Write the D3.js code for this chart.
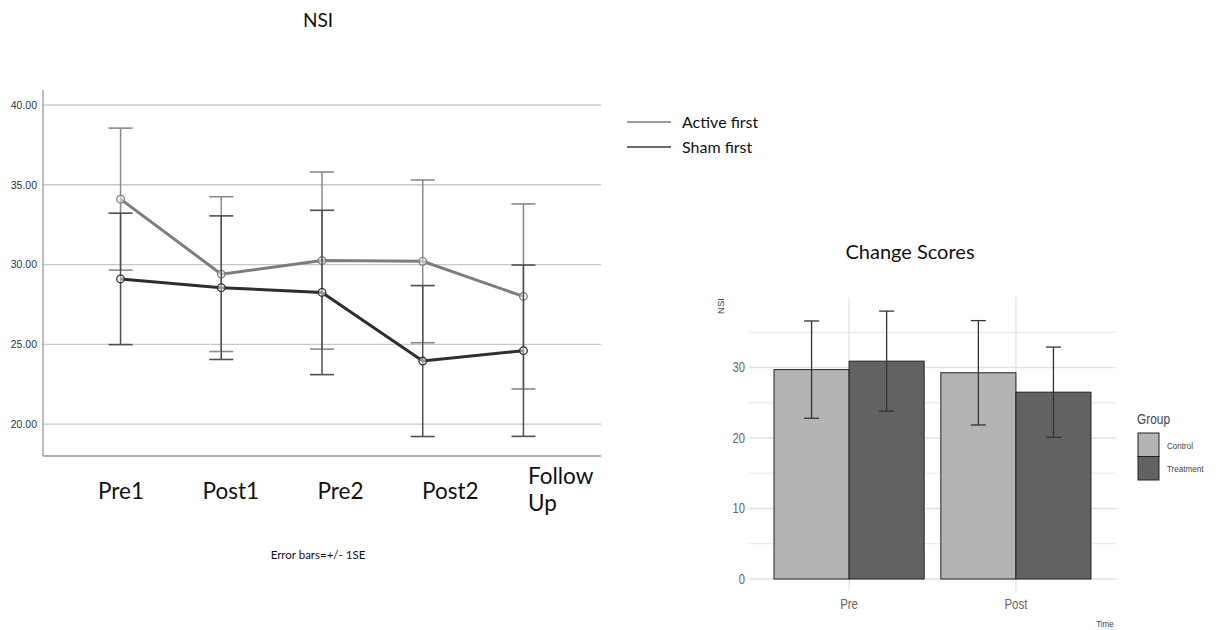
<!DOCTYPE html>
<html lang="en">
<head>
<meta charset="UTF-8">
<title>NSI and Change Scores</title>
<script src="https://cdn.jsdelivr.net/npm/d3@7/dist/d3.min.js"></script>
<style>
    body { margin: 0; background: #fff; }
    svg { display: block; }
    .calib { font-family: Lato, "Open Sans", sans-serif; fill: #111; }
    .narrow { font-family: "Liberation Sans Narrow", "Liberation Sans", Arial, sans-serif; }
</style>
</head>
<body>
<svg id="chart" width="1222" height="630"></svg>
<script>
// ---- left panel data (NSI over time) ----
var timePoints = ['Pre1', 'Post1', 'Pre2', 'Post2', 'Follow Up'];
var activeMean = [34.1, 29.4, 30.25, 30.2, 28.0];
var activeSE   = [4.45, 4.85, 5.55, 5.1, 5.8];
var shamMean   = [29.1, 28.55, 28.25, 23.95, 24.6];
var shamSE     = [4.12, 4.5, 5.15, 4.73, 5.37];
var nsiTicks   = [20, 25, 30, 35, 40];

// ---- right panel data (change scores) ----
var phases     = ['Pre', 'Post'];
var groups     = ['Control', 'Treatment'];
var controlMean = [29.7, 29.25];
var controlSE   = [6.9, 7.4];
var treatMean   = [30.9, 26.5];
var treatSE     = [7.1, 6.4];
var changeTicks = [0, 10, 20, 30];

var svg = d3.select('#chart');

// squeeze text horizontally to mimic a condensed face
function condense(sel, k) {
    sel.each(function () {
        var t = d3.select(this);
        var x = +t.attr('x');
        t.attr('transform', 'translate(' + x + ',0) scale(' + k + ',1) translate(' + (-x) + ',0)');
    });
}

// =================== LEFT: NSI line chart ===================
var L = {left: 43, right: 601, top: 90, bottom: 456};
var xL = d3.scalePoint().domain(timePoints).range([L.left, L.right]).padding(0.77);
var xLabel = d3.scalePoint().domain(timePoints).range([121, 560]);
var yL = d3.scaleLinear().domain([18, 40]).range([L.bottom, 105]);

svg.append('text').attr('class', 'calib')
   .attr('x', 318).attr('y', 27).attr('text-anchor', 'middle')
   .attr('font-size', 19).text('NSI');

// gridlines
svg.append('g').selectAll('line').data(nsiTicks).enter().append('line')
   .attr('x1', L.left).attr('x2', L.right)
   .attr('y1', d => yL(d)).attr('y2', d => yL(d))
   .attr('stroke', '#c8c8c8').attr('stroke-width', 1.3);

// axes
var yAxisL = svg.append('g').attr('transform', 'translate(' + L.left + ',0)')
   .call(d3.axisLeft(yL).tickValues(nsiTicks).tickFormat(d3.format('.2f')).tickSize(0).tickPadding(6));
yAxisL.select('.domain').remove();
yAxisL.selectAll('text').attr('font-family', '"Liberation Sans", Arial, sans-serif')
   .attr('font-size', 10.5).attr('fill', '#333');
svg.append('line').attr('x1', L.left).attr('x2', L.left).attr('y1', L.top).attr('y2', L.bottom)
   .attr('stroke', '#999').attr('stroke-width', 1.3);
svg.append('line').attr('x1', L.left).attr('x2', L.right).attr('y1', L.bottom).attr('y2', L.bottom)
   .attr('stroke', '#999').attr('stroke-width', 1.3);

// category labels
var catLabels = svg.append('g');
timePoints.forEach(function (t) {
    var parts = t.split(' ');
    var tx = catLabels.append('text').attr('class', 'calib').attr('font-size', 22.5);
    if (parts.length === 1) {
        tx.attr('x', xLabel(t)).attr('y', 499).attr('text-anchor', 'middle').text(t);
    } else {
        parts.forEach(function (p, i) {
            tx.append('tspan').attr('x', xLabel(t) - 32).attr('y', 484 + i * 27).text(p);
        });
    }
});

svg.append('text').attr('class', 'calib')
   .attr('x', 318).attr('y', 559).attr('text-anchor', 'middle')
   .attr('font-size', 11.5).text('Error bars=+/- 1SE');

function drawSeries(means, ses, lineColor, barColor) {
    var g = svg.append('g');
    var pts = timePoints.map((t, i) => ({t: t, m: means[i], se: ses[i]}));
    var eb = g.selectAll('.eb').data(pts).enter().append('g');
    eb.append('line')
      .attr('x1', d => xL(d.t)).attr('x2', d => xL(d.t))
      .attr('y1', d => yL(d.m - d.se)).attr('y2', d => yL(d.m + d.se))
      .attr('stroke', barColor).attr('stroke-width', 1.5);
    [-1, 1].forEach(function (s) {
        eb.append('line')
          .attr('x1', d => xL(d.t) - 12).attr('x2', d => xL(d.t) + 12)
          .attr('y1', d => yL(d.m + s * d.se)).attr('y2', d => yL(d.m + s * d.se))
          .attr('stroke', barColor).attr('stroke-width', 1.6);
    });
    g.append('path').datum(pts)
     .attr('fill', 'none').attr('stroke', lineColor).attr('stroke-width', 3)
     .attr('d', d3.line().x(d => xL(d.t)).y(d => yL(d.m)));
    g.selectAll('circle').data(pts).enter().append('circle')
     .attr('cx', d => xL(d.t)).attr('cy', d => yL(d.m)).attr('r', 3.8)
     .attr('fill', '#fff').attr('fill-opacity', 0.5)
     .attr('stroke', lineColor).attr('stroke-width', 1.3);
}
drawSeries(activeMean, activeSE, '#7d7d7d', '#8a8a8a');
drawSeries(shamMean, shamSE, '#2e2e2e', '#505050');

// legend
var legL = svg.append('g');
[['Active first', '#9a9a9a', 122], ['Sham first', '#6a6a6a', 147]].forEach(function (d) {
    legL.append('line').attr('x1', 627).attr('x2', 671).attr('y1', d[2]).attr('y2', d[2])
        .attr('stroke', d[1]).attr('stroke-width', 2.2);
    legL.append('text').attr('class', 'calib').attr('x', 682).attr('y', d[2] + 6)
        .attr('font-size', 16).text(d[0]);
});

// =================== RIGHT: Change Scores bar chart ===================
var R = {left: 749, right: 1116, top: 297, bottom: 579};
// band centres with ggplot-like expansion (0.6 units each side)
var xC = d3.scalePoint().domain(phases).range([R.left, R.right]).padding(0.6);
var step = xC.step();
var xG = d3.scaleBand().domain(groups).range([-0.45 * step, 0.45 * step]);
var yR = d3.scaleLinear().domain([0, 40]).range([R.bottom, R.top]);

svg.append('text').attr('class', 'calib')
   .attr('x', 910).attr('y', 259).attr('text-anchor', 'middle')
   .attr('font-size', 20).text('Change Scores');

// grid
var minor = [5, 15, 25, 35];
svg.append('g').selectAll('line').data(changeTicks.concat(minor)).enter().append('line')
   .attr('x1', R.left).attr('x2', R.right)
   .attr('y1', d => yR(d)).attr('y2', d => yR(d))
   .attr('stroke', '#e2e2e2').attr('stroke-width', d => minor.indexOf(d) >= 0 ? 0.9 : 1.3);
svg.append('g').selectAll('line').data(phases).enter().append('line')
   .attr('x1', d => xC(d)).attr('x2', d => xC(d))
   .attr('y1', R.top).attr('y2', R.bottom + 12)
   .attr('stroke', '#e2e2e2').attr('stroke-width', 1.3);

// y tick labels
svg.append('g').selectAll('text').data(changeTicks).enter().append('text')
   .attr('class', 'narrow').attr('x', 745).attr('y', d => yR(d) + 5)
   .attr('text-anchor', 'end').attr('font-size', 14).attr('fill', '#666')
   .text(d => d).call(condense, 0.8);
// x tick labels
svg.append('g').selectAll('text').data(phases).enter().append('text')
   .attr('class', 'narrow').attr('x', d => xC(d)).attr('y', 609)
   .attr('text-anchor', 'middle').attr('font-size', 14).attr('fill', '#666')
   .text(d => d).call(condense, 0.82);

svg.append('text').attr('class', 'narrow')
   .attr('transform', 'translate(724,306) rotate(-90)')
   .attr('text-anchor', 'middle').attr('font-size', 9.5).attr('fill', '#444').text('NSI');
svg.append('text').attr('class', 'narrow')
   .attr('x', 1105).attr('y', 627).attr('text-anchor', 'middle')
   .attr('font-size', 9.5).attr('fill', '#444').text('Time').call(condense, 0.85);

var fills = {Control: '#b4b4b4', Treatment: '#626262'};
var barData = [];
phases.forEach(function (p, i) {
    barData.push({p: p, g: 'Control', m: controlMean[i], se: controlSE[i]});
    barData.push({p: p, g: 'Treatment', m: treatMean[i], se: treatSE[i]});
});
var bars = svg.append('g');
bars.selectAll('rect').data(barData).enter().append('rect')
    .attr('x', d => xC(d.p) + xG(d.g)).attr('width', xG.bandwidth())
    .attr('y', d => yR(d.m)).attr('height', d => yR(0) - yR(d.m))
    .attr('fill', d => fills[d.g]).attr('stroke', '#222').attr('stroke-width', 1);
var ebR = bars.selectAll('.ebr').data(barData).enter().append('g').attr('stroke', '#333').attr('stroke-width', 1.3);
var cx = d => xC(d.p) + xG(d.g) + xG.bandwidth() / 2;
ebR.append('line').attr('x1', cx).attr('x2', cx)
   .attr('y1', d => yR(d.m - d.se)).attr('y2', d => yR(d.m + d.se));
[-1, 1].forEach(function (s) {
    ebR.append('line').attr('x1', d => cx(d) - 7.5).attr('x2', d => cx(d) + 7.5)
       .attr('y1', d => yR(d.m + s * d.se)).attr('y2', d => yR(d.m + s * d.se));
});

// legend
var legR = svg.append('g');
legR.append('text').attr('class', 'narrow').attr('x', 1137).attr('y', 424)
    .attr('font-size', 14).attr('fill', '#444').text('Group').call(condense, 0.85);
groups.forEach(function (g, i) {
    legR.append('rect').attr('x', 1138).attr('y', 433 + i * 23.5).attr('width', 21).attr('height', 23.5)
        .attr('fill', fills[g]).attr('stroke', '#222').attr('stroke-width', 1);
    legR.append('text').attr('class', 'narrow').attr('x', 1167).attr('y', 449 + i * 23.5)
        .attr('font-size', 9.5).attr('fill', '#444').text(g).call(condense, 0.85);
});
</script>
</body>
</html>
